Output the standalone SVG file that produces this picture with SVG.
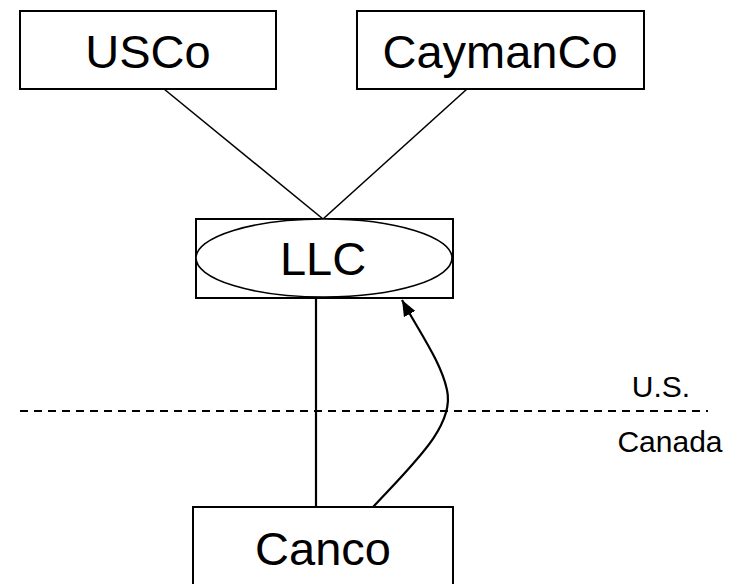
<svg xmlns="http://www.w3.org/2000/svg" width="738" height="584" viewBox="0 0 738 584">
  <style>
    .box { fill: #ffffff; stroke: #000000; stroke-width: 2; }
    .oval { fill: #ffffff; stroke: #000000; stroke-width: 1.6; }
    .big { font-family: "Liberation Sans", Arial, sans-serif; font-size: 47px; fill: #000000; text-anchor: middle; }
    .small { font-family: "Liberation Sans", Arial, sans-serif; font-size: 30px; fill: #000000; text-anchor: middle; }
    .link { fill: none; stroke: #000000; stroke-width: 1.6; }
    .stem { fill: none; stroke: #000000; stroke-width: 2.2; }
    .border { fill: none; stroke: #000000; stroke-width: 2; stroke-dasharray: 8 6; }
  </style>
  <defs>
    <marker id="arrowhead" viewBox="-16 -7 16 14" refX="0" refY="0" markerWidth="16" markerHeight="14" markerUnits="userSpaceOnUse" orient="auto">
      <path d="M0,0 L-16,-6.5 L-16,6.5 Z" fill="#000000"/>
    </marker>
  </defs>

  <!-- connectors -->
  <g id="connectors">
    <line class="link" x1="164" y1="89" x2="323" y2="219"/>
    <line class="link" x1="467" y1="89" x2="323" y2="219"/>
    <line class="stem" x1="316" y1="298" x2="316" y2="507"/>
    <path class="stem" d="M373,507 C415,462 455,425 447,390 C441,362 420,333 402,300" marker-end="url(#arrowhead)"/>
  </g>

  <!-- jurisdiction boundary -->
  <g id="boundary">
    <line class="border" x1="20" y1="411" x2="708" y2="411"/>
    <text class="small" x="661" y="397">U.S.</text>
    <text class="small" x="670" y="452">Canada</text>
  </g>

  <g id="usco">
    <rect class="box" x="20" y="11" width="256" height="78"/>
    <text class="big" x="148" y="68">USCo</text>
  </g>

  <g id="caymanco">
    <rect class="box" x="357" y="11" width="287" height="78"/>
    <text class="big" x="500" y="68">CaymanCo</text>
  </g>

  <g id="llc">
    <rect class="box" x="196" y="219" width="257" height="79"/>
    <ellipse class="oval" cx="324" cy="258" rx="128" ry="39"/>
    <text class="big" x="323" y="275">LLC</text>
  </g>

  <g id="canco">
    <rect class="box" x="193" y="507" width="260" height="100"/>
    <text class="big" x="323" y="565">Canco</text>
  </g>
</svg>
